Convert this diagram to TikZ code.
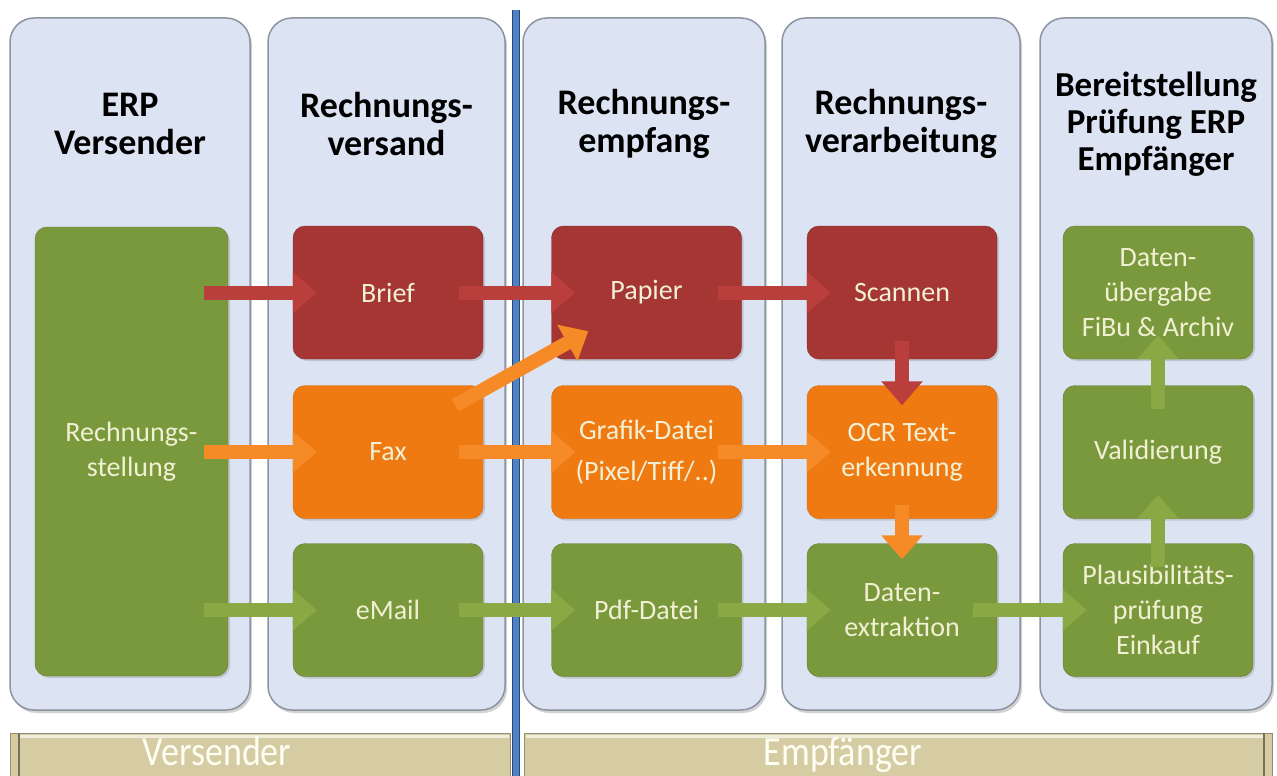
\documentclass[tikz,border=0pt]{standalone}
\usepackage{fontspec}
\setmainfont{Carlito}
\usepackage{tikz}
\usetikzlibrary{arrows.meta,calc,shadows}

\definecolor{panelfill}{RGB}{220,228,243}
\definecolor{paneldraw}{RGB}{140,148,162}
\definecolor{colbrief}{RGB}{165,54,52}
\definecolor{colfax}{RGB}{240,122,18}
\definecolor{colmail}{RGB}{122,153,60}
\definecolor{boxtext}{RGB}{242,240,212}
\definecolor{barfill}{RGB}{213,204,163}
\definecolor{lignebleue}{RGB}{78,130,200}

\begin{document}
\begin{tikzpicture}[x=1pt, y=-1pt,
    panel/.style={draw=paneldraw, line width=1.5pt, fill=panelfill, rounded corners=24pt,
      minimum width=#1, minimum height=692pt, inner sep=0pt,
      drop shadow={shadow xshift=2pt, shadow yshift=-3pt, opacity=0.35}},
    head/.style={font=\fontsize{36}{38}\selectfont\bfseries, align=center, inner sep=0pt},
    box/.style={rounded corners=12pt, minimum width=190pt, minimum height=133pt, inner sep=0pt,
      text=boxtext, font=\fontsize{28}{35}\selectfont, align=center,
      drop shadow={shadow xshift=2pt, shadow yshift=-2pt, opacity=0.3}},
    rbox/.style={box, fill=colbrief, draw=colbrief!80!black},
    obox/.style={box, fill=colfax, draw=colfax!85!black},
    gbox/.style={box, fill=colmail, draw=colmail!80!black},
    bar/.style={fill=barfill, draw=barfill!70!black, line width=1pt, anchor=north west,
      minimum height=60pt, inner sep=0pt},
    bartext/.style={text=white!95!yellow, font=\fontsize{36}{40}\selectfont, anchor=base, inner sep=0pt},
    flux/.style={line width=14pt, -{Triangle[width=40pt,length=24pt]},
      shorten <=-24pt, shorten >=-24pt},
    fluxr/.style={flux, draw={rgb,255:red,186;green,62;blue,60}},
    fluxo/.style={flux, draw={rgb,255:red,246;green,138;blue,38}},
    fluxg/.style={flux, draw={rgb,255:red,138;green,168;blue,68}}]

    \useasboundingbox[fill=white] (0,0) rectangle (1277,776);

    % colonnes
    \node[panel=240pt] (p1) at (130,364) {};
    \node[panel=237pt] (p2) at (386.5,364) {};
    \node[panel=242pt] (p3) at (644,364) {};
    \node[panel=238pt] (p4) at (901,364) {};
    \node[panel=232pt] (p5) at (1156,364) {};

    % bandeau du bas
    \node[bar, minimum width=500pt] (barv) at (10,733) {};
    \node[bar, minimum width=748pt] (bare) at (524,733) {};
    \draw[barfill!35!white, line width=3pt] ([xshift=9pt,yshift=-3pt]barv.north west) -- ([xshift=-2pt,yshift=-3pt]barv.north east);
    \draw[barfill!35!white, line width=3pt] ([xshift=2pt,yshift=-3pt]bare.north west) -- ([xshift=-9pt,yshift=-3pt]bare.north east);
    \draw[barfill!55!black, line width=1.5pt] ([xshift=9pt]barv.north west) -- ([xshift=9pt]barv.south west);
    \draw[barfill!55!black, line width=1.5pt] ([xshift=-9pt]bare.north east) -- ([xshift=-9pt]bare.south east);
    \node[bartext] (tv) at (217,765) {\scalebox{1}[1.15]{Versender}};
    \node[bartext] (te) at (843,765) {\scalebox{1}[1.15]{Empfänger}};

    \fill[lignebleue] (512,10) rectangle (519,776);
    \draw[lignebleue!55!black, line width=1pt] (512,10) -- (512,776);
    \draw[lignebleue!55!black, line width=1pt] (519,10) -- (519,776);

    \node[head] (h1) at (130,124) {ERP\\Versender};
    \node[head] (h2) at (386.5,124) {Rechnungs-\\versand};
    \node[head] (h3) at (644,124) {Rechnungs-\\empfang};
    \node[head] (h4) at (901,124) {Rechnungs-\\verarbeitung};
    \node[head, font=\fontsize{35}{37}\selectfont\bfseries] (h5) at (1156,124)
      {Bereitstellung\\Prüfung ERP\\Empfänger};

    \node[gbox, minimum width=193pt, minimum height=449pt] (rech) at (131.5,451.5)
      {Rechnungs-\\stellung};

    \node[rbox] (brief) at (388,292.5) {Brief};
    \node[obox] (fax) at (388,452) {Fax};
    \node[gbox] (email) at (388,610) {eMail};

    \node[rbox] (papier) at (646.5,292.5) {Papier\vphantom{Bf}};
    \node[obox] (grafik) at (646.5,452) {Grafik-Datei\\[6pt](Pixel/Tiff/..)};
    \node[gbox] (pdf) at (646.5,610) {Pdf-Datei};

    \node[rbox] (scan) at (902,292.5) {Scannen};
    \node[obox] (ocr) at (902,452) {OCR Text-\\erkennung};
    \node[gbox] (extrakt) at (902,610) {Daten-\\extraktion};

    \node[gbox] (uebergabe) at (1158,292.5) {Daten-\\übergabe\\FiBu \& Archiv};
    \node[gbox] (valid) at (1158,452) {Validierung};
    \node[gbox] (plaus) at (1158,610) {Plausibilitäts-\\prüfung\\Einkauf};

    % fleches
    \draw[fluxr] (rech.east |- brief.west) -- (brief);
    \draw[fluxo] (rech.east |- fax.west) -- (fax);
    \draw[fluxg] (rech.east |- email.west) -- (email);

    \draw[fluxr] (brief) -- (papier);
    \draw[fluxo] (fax) -- (grafik);
    \draw[fluxg] (email) -- (pdf);
    \draw[fluxo, shorten <=0pt, shorten >=0pt]
      ($(fax.north east)+(-28,20)$) -- ($(papier.south west)+(37,-28)$);

    \draw[fluxr] (papier) -- (scan);
    \draw[fluxo] (grafik) -- (ocr);
    \draw[fluxg] (pdf) -- (extrakt);

    \draw[fluxr, shorten <=-18pt, shorten >=-20pt] (scan) -- (ocr);
    \draw[fluxo, shorten <=-14pt, shorten >=-16pt] (ocr) -- (extrakt);

    \draw[fluxg] (extrakt) -- (plaus);
    \draw[fluxg] (plaus) -- (valid);
    \draw[fluxg] (valid) -- (uebergabe);

\end{tikzpicture}
\end{document}
